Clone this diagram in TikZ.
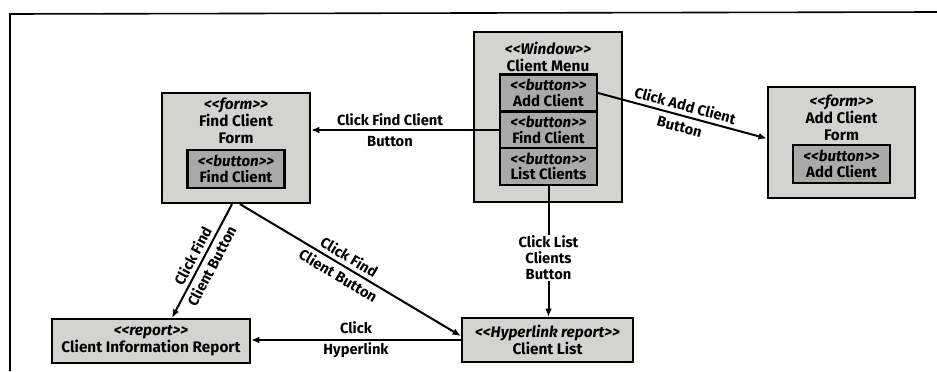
\documentclass[tikz,border=0pt]{standalone}
\usepackage{fontspec}
\setmainfont{Fira Sans}
\usetikzlibrary{arrows.meta,calc}
\definecolor{boxgray}{RGB}{212,212,207}
\definecolor{btngray}{RGB}{168,170,166}
\newcommand{\stereo}[1]{\textit{<{}<#1>{}>}}

\begin{document}
\begin{tikzpicture}[x=0.75pt,y=-0.75pt,
  box/.style={draw=black,fill=boxgray,line width=1.7pt,inner sep=0pt},
  btn/.style={draw=black,fill=btngray,line width=1.7pt,inner sep=0pt,
    minimum width=72.75pt,minimum height=27.75pt,align=center,
    font=\bfseries\fontsize{11.3}{11.4}\selectfont},
  title/.style={font=\bfseries\fontsize{11.5}{12.6}\selectfont,align=center},
  flow/.style={-{Latex[length=2.2mm,width=1.8mm]},line width=1.5pt},
  note/.style={font=\bfseries\fontsize{11}{12}\selectfont,align=center},
]
\useasboundingbox (0,0) rectangle (937,371);
% frame of the page
\draw[line width=1.2pt] (10,371) -- (10,14) -- (937,12);

% window with its buttons
\node[box,minimum width=111pt,minimum height=127.5pt] (menu) at (548,117) {};
\node[title] (menutitle) at (548,57) {\stereo{Window}\\Client Menu};
\node[btn] (addbtn) at (548.5,93) {\stereo{button}\\Add Client};
\node[btn] (findbtn) at (548.5,130) {\stereo{button}\\Find Client};
\node[btn] (listbtn) at (548.5,166.5) {\stereo{button}\\List Clients};

% forms
\node[box,minimum width=111pt,minimum height=82.5pt] (findform) at (236,148) {};
\node[title] (findtitle) at (236,121) {\stereo{form}\\Find Client\\Form};
\node[btn,minimum height=28.5pt] (findformbtn) at (236,169) {\stereo{button}\\Find Client};

\node[box,minimum width=110.25pt,minimum height=83.25pt] (addform) at (841.5,142.5) {};
\node[title] (addtitle) at (841.5,118) {\stereo{form}\\Add Client\\Form};
\node[btn,minimum height=28.5pt] (addformbtn) at (841.5,164) {\stereo{button}\\Add Client};

% reports
\node[box,title,minimum width=148.5pt,minimum height=33pt] (cir) at (151,341)
  {\stereo{report}\\Client Information Report};
\node[box,title,minimum width=128.25pt,minimum height=33pt] (clist) at (547.5,340)
  {\stereo{Hyperlink report}\\Client List};

% transitions
\draw[flow] (findbtn.west) -- (findbtn.west -| findform.east)
  node[note,pos=0.58] {Click Find Client\\[4pt]Button};
\draw[flow] (addbtn.east) -- ($(addform.west)+(0,-4)$)
  node[note,sloped,midway] {Click Add Client\\[4pt]Button};
\draw[flow] (listbtn.south) -- (listbtn.south |- clist.north)
  node[note,pos=0.55,fill=white,inner sep=1pt] {Click List\\Clients\\Button};
\draw[flow] ($(findform.south)+(-4,0)$) -- ($(cir.north)+(21,0)$)
  node[note,sloped,midway] {Click Find\\[4pt]Client Button};
\draw[flow] ($(findform.south)+(4,0)$) -- ($(clist.west)+(0,-4)$)
  node[note,sloped,pos=0.47] {Click Find\\[4pt]Client Button};
\draw[flow] (clist.west) -- (clist.west -| cir.east)
  node[note,midway] {Click\\[4pt]Hyperlink};
\end{tikzpicture}
\end{document}
